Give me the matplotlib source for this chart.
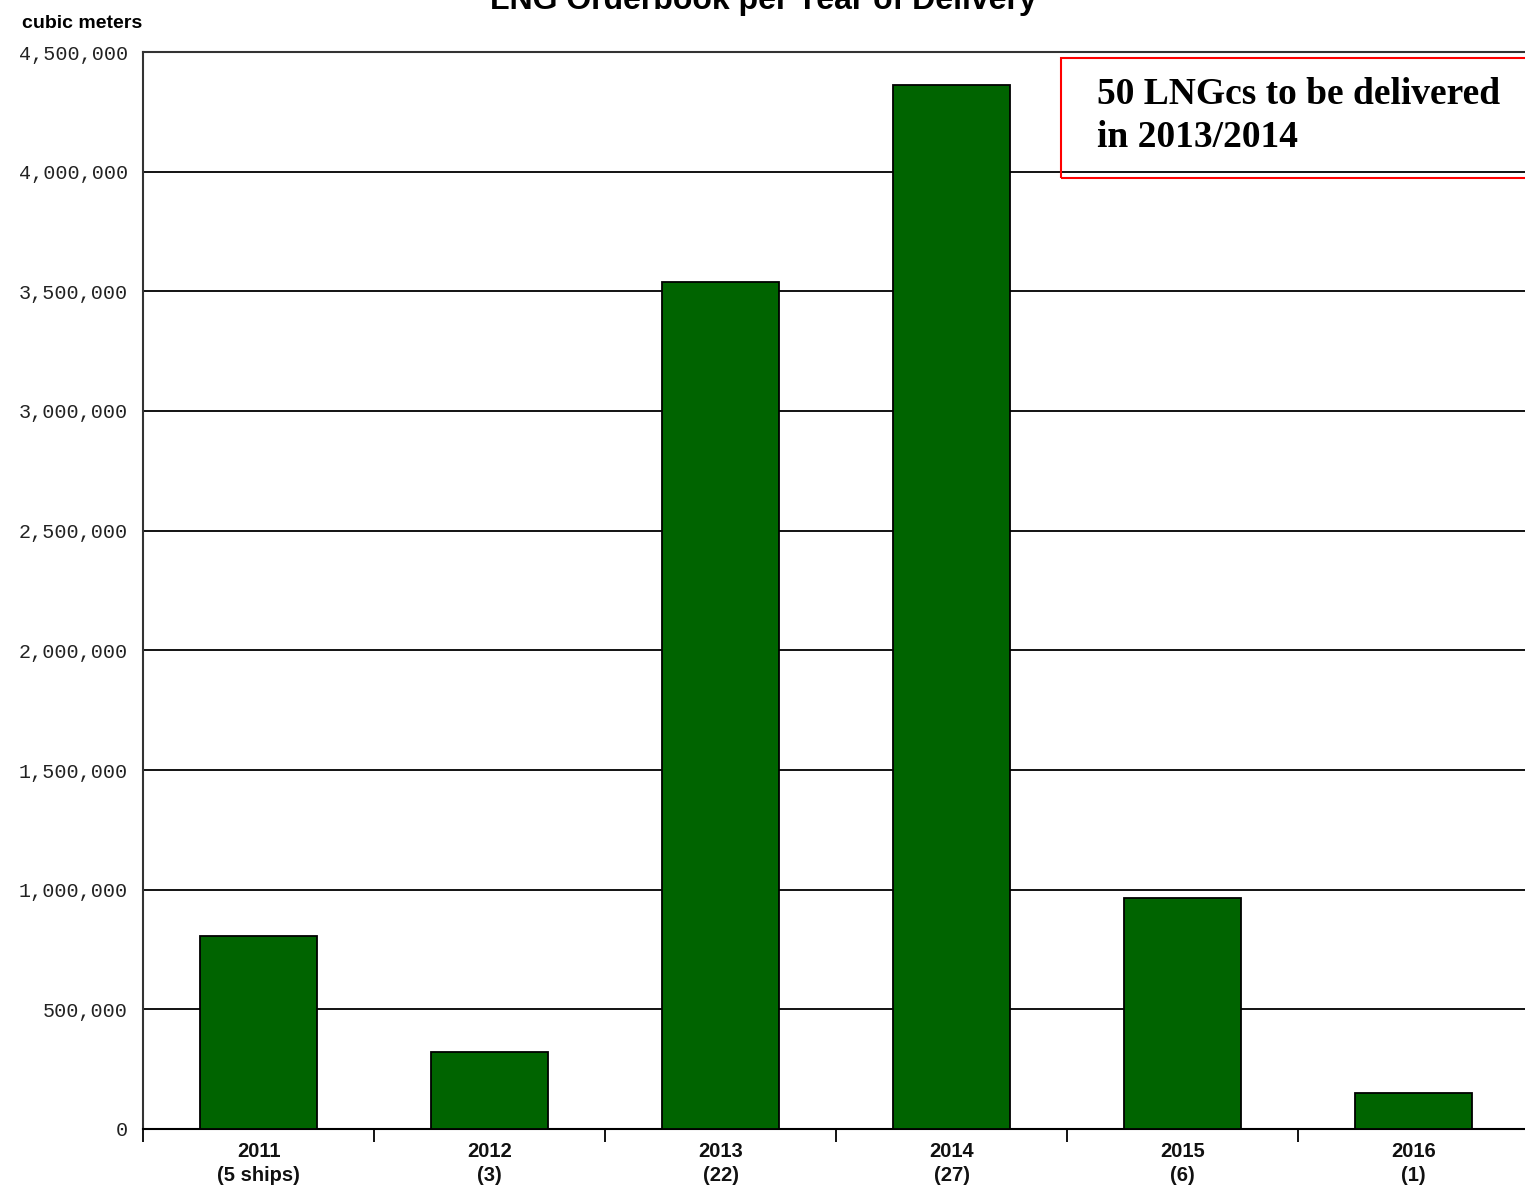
import matplotlib.pyplot as plt
from matplotlib.patches import Rectangle
from matplotlib.ticker import FuncFormatter, MultipleLocator

years = ['2011', '2012', '2013', '2014', '2015', '2016']
ships = ['(5 ships)', '(3)', '(22)', '(27)', '(6)', '(1)']
capacity = [805000, 322000, 3540000, 4363000, 965000, 150000]

W, H = 1525, 1192
fig = plt.figure(figsize=(W / 100, H / 100), dpi=100)
ax = fig.add_axes([143 / W, 63 / H, 1386 / W, 1077 / H])

x = range(len(years))
ax.bar(x, capacity, width=0.505, color='#006400', edgecolor='black',
       linewidth=1.3, zorder=3)

ax.set_xlim(-0.5, 5.5)
ax.set_ylim(0, 4500000)
ax.yaxis.set_major_locator(MultipleLocator(500000))
ax.yaxis.set_major_formatter(FuncFormatter(lambda v, p: f'{int(v):,}'))
ax.grid(axis='y', color='black', linewidth=1.3, zorder=0)
ax.tick_params(axis='y', length=0, pad=11, labelsize=14.5, labelcolor='#222222')
for t in ax.get_yticklabels():
    t.set_family('Liberation Mono')

# category boundaries get the tick marks, labels sit between them
ax.set_xticks([i - 0.5 for i in range(len(years) + 1)])
ax.set_xticklabels([])
ax.tick_params(axis='x', length=9, width=1.3, direction='out')
for i, (yr, n) in enumerate(zip(years, ships)):
    ax.text(i, -55000, f'{yr}\n{n}', ha='center', va='top', fontsize=14.5,
            fontweight='bold', family='Liberation Sans', linespacing=1.3,
            color='#111111')

for s in ['left', 'top']:
    ax.spines[s].set_color('#333333')
    ax.spines[s].set_linewidth(1.5)
ax.spines['bottom'].set_linewidth(1.5)
ax.spines['right'].set_visible(False)

fig.text(22 / W, 1 - 28 / H, 'cubic meters', fontsize=14, fontweight='bold',
         family='Liberation Sans', va='baseline', ha='left')
fig.text(763 / W, 1 - 9 / H, 'LNG Orderbook per Year of Delivery', fontsize=23,
         fontweight='bold', family='Liberation Sans', ha='center', va='baseline')

# callout box
fig.patches.append(Rectangle((1061 / W, 1 - 178 / H), 500 / W, 120 / H,
                             transform=fig.transFigure, fill=False,
                             edgecolor='red', linewidth=1.5, zorder=5))
fig.text(1097 / W, 1 - 77 / H, '50 LNGcs to be delivered\nin 2013/2014',
         fontsize=27, fontweight='bold', family='Liberation Serif',
         va='top', ha='left', linespacing=1.3)

fig.savefig('out.png', dpi=100)
